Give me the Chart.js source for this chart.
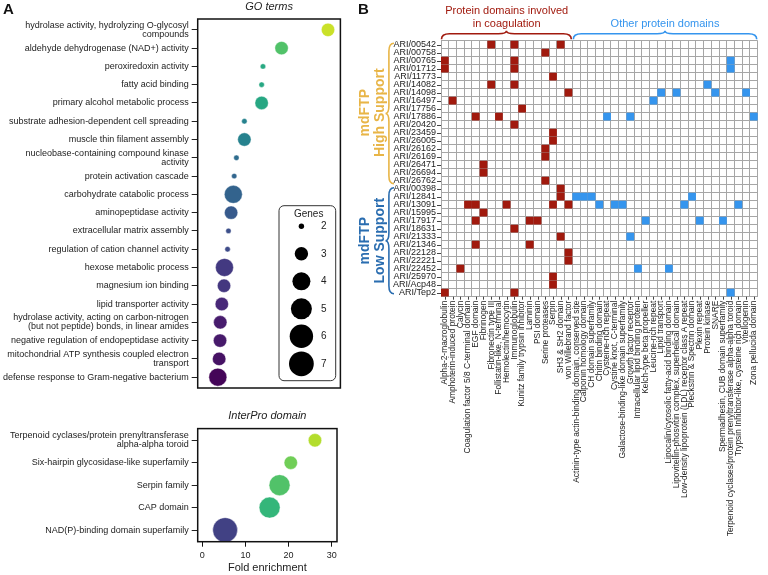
<!DOCTYPE html>
<html lang="en">
<head>
  <meta charset="UTF-8" />
  <title>Enrichment and protein domains of mdFTP</title>
  <script src="https://cdn.jsdelivr.net/npm/chart.js"></script>
  <style>
    body { margin: 0; background: #fff; }
    #figure {
      position: relative;
      width: 768px;
      height: 575px;
      overflow: hidden;
      font-family: "Liberation Sans", Arial, sans-serif;
    }
    #figure canvas { position: absolute; }
    .panel-tag {
      position: absolute;
      font-weight: 700;
      font-size: 15px;
      color: #111;
    }
  </style>
</head>
<body>
  <div id="figure">
    <canvas id="goChart" width="350" height="400" style="left:0;top:0"></canvas>
    <canvas id="ipChart" width="350" height="170" style="left:0;top:405px"></canvas>
    <canvas id="domainChart" width="413" height="575" style="left:355px;top:0"></canvas>
    <div class="panel-tag" style="left:3px;top:0">A</div>
    <div class="panel-tag" style="left:358px;top:0">B</div>
  </div>

  <script>
    // ---------- Panel A : GO terms ----------
    const goTerms = [
      ["hydrolase activity, hydrolyzing O-glycosyl", "compounds"],
      "aldehyde dehydrogenase (NAD+) activity",
      "peroxiredoxin activity",
      "fatty acid binding",
      "primary alcohol metabolic process",
      "substrate adhesion-dependent cell spreading",
      "muscle thin filament assembly",
      ["nucleobase-containing compound kinase", "activity"],
      "protein activation cascade",
      "carbohydrate catabolic process",
      "aminopeptidase activity",
      "extracellular matrix assembly",
      "regulation of cation channel activity",
      "hexose metabolic process",
      "magnesium ion binding",
      "lipid transporter activity",
      ["hydrolase activity, acting on carbon-nitrogen", "(but not peptide) bonds, in linear amides"],
      "negative regulation of endopeptidase activity",
      ["mitochondrial ATP synthesis coupled electron", "transport"],
      "defense response to Gram-negative bacterium"
    ];
    const goFold = [28.4, 17.9, 13.7, 13.4, 13.4, 9.5, 9.5, 7.7, 7.2, 7.0,
                    6.5, 5.9, 5.7, 5.0, 4.9, 4.4, 4.05, 4.0, 3.8, 3.5];
    const goGenes = [3, 3, 2, 2, 3, 2, 3, 2, 2, 4,
                     3, 2, 2, 4, 3, 3, 3, 3, 3, 4];

    // ---------- Panel A : InterPro domains ----------
    const ipDomains = [
      ["Terpenoid cyclases/protein prenyltransferase", "alpha-alpha toroid"],
      "Six-hairpin glycosidase-like superfamily",
      "Serpin family",
      "CAP domain",
      "NAD(P)-binding domain superfamily"
    ];
    const ipFold = [26.1, 20.5, 17.9, 15.6, 5.3];
    const ipGenes = [3, 3, 5, 5, 7];

    const foldTicks = [0, 10, 20, 30];
    const legendGenes = [2, 3, 4, 5, 6, 7];

    // ---------- Panel B : domains per protein ----------
    const coagDomains = [
      "Alpha-2-macroglobulin", "Amphoterin-induced protein", "Calycin",
      "Coagulation factor 5/8 C-terminal domain", "EGF domain", "Fibrinogen",
      "Fibronectin type III", "Follistatin-like, N-terminal", "Hemolectin/hemocytin",
      "Immunoglobulin", "Kunitz family trypsin inhibitor", "Laminin", "PSI domain",
      "Serine proteases", "Serpin", "SH3 & SH2 domain", "von Willebrand factor"
    ];
    const otherDomains = [
      "Actinin-type actin-binding domain, conserved site", "Calponin homology domain",
      "CH domain superfamily", "Chitin binding domain", "Cysteine-rich repeat",
      "Cystine knot, C-terminal", "Galactose-binding-like domain superfamily",
      "Growth factor receptor", "Intracellular lipid binding protein",
      "Kelch-type beta propeller", "Leucine-rich repeat", "Lipid transport",
      "Lipocalin/cytosolic fatty-acid binding domain",
      "Lipovitellin-phosvitin complex, superhelical domain",
      "Low-density lipoprotein (LDL) receptor class A repeat",
      "Pleckstrin & Spectrin domain", "Plexin repeat", "Protein kinase", "SNARE",
      "Spermadhesin, CUB domain superfamily",
      "Terpenoid cyclases/protein prenyltransferase alpha-alpha toroid",
      "Trypsin Inhibitor-like, cysteine rich domain", "Vitellogenin", "Zona pellucida domain"
    ];
    const highSupport = [
      "ARI/00542", "ARI/00758", "ARI/00765", "ARI/01712", "ARI/11773", "ARI/14082",
      "ARI/14098", "ARI/16497", "ARI/17756", "ARI/17886", "ARI/20420", "ARI/23459",
      "ARI/26005", "ARI/26162", "ARI/26169", "ARI/26471", "ARI/26694", "ARI/26762"
    ];
    const lowSupport = [
      "ARI/00398", "ARI/12841", "ARI/13091", "ARI/15995", "ARI/17917", "ARI/18631",
      "ARI/21333", "ARI/21346", "ARI/22128", "ARI/22221", "ARI/22452", "ARI/25970",
      "ARI/Acp48", "ARI/Tep2"
    ];
    // column indexes (coagulation domains first, then the others) found in each protein
    const geneDomains = [
      [6, 9, 15], [13], [0, 9, 37], [0, 9, 37], [14], [6, 9, 34],
      [16, 28, 30, 35, 39], [1, 27], [10], [4, 7, 21, 24, 40], [9], [14],
      [14], [13], [13], [5], [5], [13],
      [15], [15, 17, 18, 19, 32], [3, 4, 8, 14, 16, 20, 22, 23, 31, 38], [5],
      [4, 11, 12, 26, 33, 36], [9], [15, 24], [4, 11], [16], [16],
      [2, 25, 29], [14], [14], [0, 9, 37]
    ];

    // ---------- helpers ----------
    const FONT = '"Liberation Sans", Arial, sans-serif';
    Chart.defaults.font.family = FONT;
    Chart.defaults.color = "#222";

    const viridis = ["#440154", "#482878", "#3e4a89", "#31688e", "#26828e",
                     "#1f9e89", "#35b779", "#6ece58", "#b5de2b", "#fde725"];
    function viridisAt(t) {
      t = Math.max(0, Math.min(1, t)) * (viridis.length - 1);
      const i = Math.min(Math.floor(t), viridis.length - 2), f = t - i;
      const a = viridis[i], b = viridis[i + 1];
      const ch = k => Math.round(parseInt(a.substr(k, 2), 16) * (1 - f) + parseInt(b.substr(k, 2), 16) * f);
      return `rgb(${ch(1)}, ${ch(3)}, ${ch(5)})`;
    }
    // colour follows fold enrichment on a log scale
    const foldColor = f => viridisAt(Math.log(f / 3.4) / Math.log(10));
    // bubble radius (px) for a gene count
    const geneRadius = g => [0, 1.8, 2.7, 6.7, 9, 10.5, 11.7, 12.4][g];

    const panelTitle = {
      id: "panelTitle",
      afterDraw(chart, args, o) {
        const { ctx, chartArea: a } = chart;
        ctx.save();
        ctx.font = "italic 11px " + FONT;
        ctx.fillStyle = "#222";
        ctx.textAlign = "center";
        ctx.textBaseline = "middle";
        ctx.fillText(o.text, (a.left + a.right) / 2, o.y);
        ctx.restore();
      }
    };

    const frameBox = {
      id: "frameBox",
      afterDraw(chart) {
        const { ctx, chartArea: a } = chart;
        ctx.save();
        ctx.strokeStyle = "#111";
        ctx.lineWidth = 1.5;
        ctx.strokeRect(a.left, a.top, a.width, a.height);
        ctx.restore();
      }
    };

    const geneLegend = {
      id: "geneLegend",
      afterDraw(chart, args, o) {
        if (!o.show) return;
        const { ctx, chartArea: a } = chart;
        const bx = a.right - 61.4, by = a.bottom - 182.3, bw = 56.7, bh = 175;
        ctx.save();
        ctx.strokeStyle = "#333";
        ctx.lineWidth = 1;
        ctx.fillStyle = "#fff";
        ctx.beginPath();
        ctx.roundRect(bx, by, bw, bh, 5);
        ctx.fill();
        ctx.stroke();
        ctx.font = "10px " + FONT;
        ctx.textAlign = "center";
        ctx.textBaseline = "middle";
        ctx.fillStyle = "#222";
        ctx.fillText("Genes", bx + 29.7, by + 8.5);
        legendGenes.forEach((g, k) => {
          const cy = by + 20.6 + k * 27.5;
          ctx.fillStyle = "#000";
          ctx.beginPath();
          ctx.arc(bx + 22.4, cy, geneRadius(g), 0, Math.PI * 2);
          ctx.fill();
          ctx.fillStyle = "#222";
          ctx.fillText(String(g), bx + 44.7, cy);
        });
        ctx.restore();
      }
    };

    function enrichmentChart(id, labels, fold, genes, opt) {
      return new Chart(document.getElementById(id), {
        type: "bubble",
        data: {
          datasets: [{
            data: fold.map((f, i) => ({ x: f, y: i, r: geneRadius(genes[i]) })),
            backgroundColor: fold.map(foldColor),
            borderColor: "rgba(255,255,255,0.7)",
            borderWidth: 0.6
          }]
        },
        options: {
          responsive: false,
          animation: false,
          events: [],
          layout: { padding: opt.padding },
          plugins: {
            legend: { display: false },
            tooltip: { enabled: false },
            panelTitle: { text: opt.title, y: opt.titleY },
            geneLegend: { show: opt.sizeLegend }
          },
          scales: {
            x: {
              type: "linear",
              min: -1.05,
              max: 31.2,
              display: opt.showX,
              afterBuildTicks: s => { s.ticks = foldTicks.map(v => ({ value: v })); },
              afterFit: s => { s.height = opt.showX ? 33.3 : 0; },
              grid: { drawOnChartArea: false, color: "#111", tickLength: 5 },
              border: { display: false },
              ticks: { padding: 3, font: { size: 9 } },
              title: { display: true, text: "Fold enrichment", font: { size: 11 }, padding: 0 }
            },
            y: {
              type: "linear",
              reverse: true,
              min: -opt.pad,
              max: labels.length - 1 + opt.pad,
              afterBuildTicks: s => { s.ticks = labels.map((_, i) => ({ value: i })); },
              afterFit: s => { s.width = 197.7; },
              grid: { drawOnChartArea: false, color: "#222", tickLength: 6 },
              border: { display: false },
              ticks: {
                autoSkip: false,
                padding: 3,
                font: { size: 9, lineHeight: 1.0 },
                callback: v => labels[v]
              }
            }
          }
        },
        plugins: [panelTitle, frameBox, geneLegend]
      });
    }

    enrichmentChart("goChart", goTerms, goFold, goGenes, {
      padding: { top: 19, right: 9.3, bottom: 6, left: 0 },
      title: "GO terms", titleY: 6.5, pad: 0.593, showX: false, sizeLegend: true
    });
    enrichmentChart("ipChart", ipDomains, ipFold, ipGenes, {
      padding: { top: 23.6, right: 9.3, bottom: 0, left: 0 },
      title: "InterPro domain", titleY: 11, pad: 0.52, showX: true, sizeLegend: false
    });

    // ---------- Panel B : domain matrix ----------
    const domains = coagDomains.concat(otherDomains);
    const proteins = highSupport.concat(lowSupport);
    const coagCells = [], otherCells = [];
    proteins.forEach((p, i) => {
      geneDomains[i].forEach(d => {
        (d < coagDomains.length ? coagCells : otherCells).push({ x: domains[d], y: p });
      });
    });

    const RED = "#a11a0e", BLUE = "#3595ee", GOLD = "#e8b547", NAVY = "#2a6db0";

    function hBrace(ctx, x1, x2, yEnd, depth) {
      const xm = (x1 + x2) / 2, yBar = yEnd - depth * 0.65, yTip = yEnd - depth, r = 8;
      ctx.beginPath();
      ctx.moveTo(x1, yEnd);
      ctx.quadraticCurveTo(x1, yBar, x1 + r, yBar);
      ctx.lineTo(xm - r, yBar);
      ctx.quadraticCurveTo(xm, yBar, xm, yTip);
      ctx.quadraticCurveTo(xm, yBar, xm + r, yBar);
      ctx.lineTo(x2 - r, yBar);
      ctx.quadraticCurveTo(x2, yBar, x2, yEnd);
      ctx.stroke();
    }

    function vBrace(ctx, xEnd, y1, y2, depth) {
      const ym = (y1 + y2) / 2, xBar = xEnd - depth * 0.6, xTip = xEnd - depth, r = 8;
      ctx.beginPath();
      ctx.moveTo(xEnd, y1);
      ctx.quadraticCurveTo(xBar, y1, xBar, y1 + r);
      ctx.lineTo(xBar, ym - r);
      ctx.quadraticCurveTo(xBar, ym, xTip, ym);
      ctx.quadraticCurveTo(xBar, ym, xBar, ym + r);
      ctx.lineTo(xBar, y2 - r);
      ctx.quadraticCurveTo(xBar, y2, xEnd, y2);
      ctx.stroke();
    }

    function sideLabel(ctx, text, x, cy, color) {
      ctx.save();
      ctx.fillStyle = color;
      ctx.font = "bold 14px " + FONT;
      ctx.textAlign = "center";
      ctx.textBaseline = "middle";
      ctx.translate(x, cy);
      ctx.rotate(-Math.PI / 2);
      ctx.fillText(text, 0, 0);
      ctx.restore();
    }

    const domainAnnotations = {
      id: "domainAnnotations",
      afterDraw(chart) {
        const { ctx, chartArea: a, scales: { x, y } } = chart;
        const cellW = a.width / domains.length, cellH = a.height / proteins.length;
        const split = a.left + coagDomains.length * cellW;
        const highEnd = a.top + highSupport.length * cellH;
        ctx.save();

        // tick marks at the centre of each row / column
        ctx.strokeStyle = "#444";
        ctx.lineWidth = 1;
        ctx.beginPath();
        proteins.forEach((p, i) => {
          const py = Math.round(y.getPixelForValue(i)) + 0.5;
          ctx.moveTo(a.left - 4, py);
          ctx.lineTo(a.left, py);
        });
        domains.forEach((d, i) => {
          const px = Math.round(x.getPixelForValue(i)) + 0.5;
          ctx.moveTo(px, a.bottom);
          ctx.lineTo(px, a.bottom + 3);
        });
        ctx.stroke();

        // group braces above the matrix
        ctx.lineWidth = 1.6;
        ctx.strokeStyle = RED;
        hBrace(ctx, a.left + 0.5, split - 1, a.top - 1.5, 8.5);
        ctx.strokeStyle = BLUE;
        hBrace(ctx, split + 1, a.right - 1, a.top - 1.5, 8.5);

        ctx.font = "11px " + FONT;
        ctx.textAlign = "center";
        ctx.textBaseline = "middle";
        ctx.fillStyle = RED;
        ctx.fillText("Protein domains involved", (a.left + split) / 2, 10.7);
        ctx.fillText("in coagulation", (a.left + split) / 2, 24);
        ctx.fillStyle = BLUE;
        ctx.fillText("Other protein domains", (split + a.right) / 2, 24);

        // support braces left of the row labels
        const bx = a.left - 47;
        ctx.strokeStyle = GOLD;
        vBrace(ctx, bx, a.top + 2.5, highEnd - 1, 8.5);
        ctx.strokeStyle = NAVY;
        vBrace(ctx, bx, highEnd + 3, a.bottom - 3, 8.5);
        ctx.restore();

        const highMid = (a.top + highEnd) / 2, lowMid = (highEnd + a.bottom) / 2;
        sideLabel(ctx, "mdFTP", 9.8, highMid, GOLD);
        sideLabel(ctx, "High Support", 25, highMid, GOLD);
        sideLabel(ctx, "mdFTP", 9.8, lowMid, NAVY);
        sideLabel(ctx, "Low Support", 25, lowMid, NAVY);
      }
    };

    const cellRadius = c => c.chart.chartArea
      ? (c.chart.chartArea.width / domains.length) / Math.SQRT2
      : 5.6;

    new Chart(document.getElementById("domainChart"), {
      type: "scatter",
      data: {
        datasets: [
          { label: "coagulation", data: coagCells, backgroundColor: RED },
          { label: "other", data: otherCells, backgroundColor: BLUE }
        ]
      },
      options: {
        responsive: false,
        animation: false,
        events: [],
        layout: { padding: { top: 40.7, right: 2, bottom: 0, left: 0 } },
        elements: {
          point: { pointStyle: "rect", radius: cellRadius, hoverRadius: cellRadius, borderWidth: 0 }
        },
        plugins: { legend: { display: false }, tooltip: { enabled: false } },
        scales: {
          x: {
            type: "category",
            labels: domains,
            offset: true,
            afterFit: s => { s.height = 278.3; },
            grid: { offset: true, color: "#a6a6a6", drawTicks: false },
            border: { display: false },
            ticks: { autoSkip: false, minRotation: 90, maxRotation: 90, padding: 4, font: { size: 8.4 } }
          },
          y: {
            type: "category",
            labels: proteins,
            offset: true,
            afterFit: s => { s.width = 86; },
            grid: { offset: true, color: "#a6a6a6", drawTicks: false },
            border: { display: false },
            ticks: { autoSkip: false, padding: 5, font: { size: 9, lineHeight: 1.0 } }
          }
        }
      },
      plugins: [domainAnnotations]
    });
  </script>
</body>
</html>
